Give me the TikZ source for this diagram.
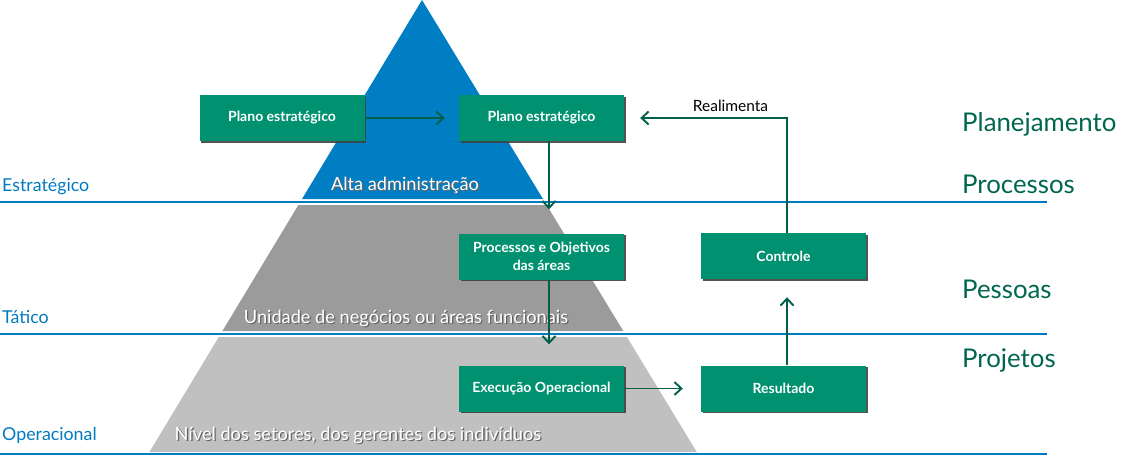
\documentclass[tikz,border=0pt]{standalone}
\usepackage{fontspec}
\setmainfont{Lato}
\usetikzlibrary{arrows.meta,shadows}
\definecolor{boxgreen}{RGB}{0,146,112}
\definecolor{arrowgreen}{RGB}{0,95,75}
\definecolor{tblue}{RGB}{0,126,196}
\definecolor{lineblue}{RGB}{0,122,192}
\definecolor{tgray}{RGB}{155,155,155}
\definecolor{lgray}{RGB}{192,192,192}
\definecolor{labgreen}{RGB}{0,102,78}
\tikzset{
  box/.style={fill=boxgreen, minimum width=165pt, minimum height=46pt, inner sep=0pt,
    text=white, align=center, font=\bfseries\fontsize{14}{18.5}\selectfont,
    drop shadow={shadow xshift=1.6pt, shadow yshift=-1.6pt, fill=black!75, opacity=0.9}},
  conn/.style={draw=arrowgreen, line width=1.9pt, -{Straight Barb[length=7pt,width=13pt,line width=1.9pt]}},
  sep/.style={draw=lineblue, line width=2.4pt},
  leftlab/.style={anchor=base west, text=lineblue, font=\fontsize{17.8}{20}\selectfont, inner sep=0pt},
  rightlab/.style={anchor=base west, text=labgreen, font=\fontsize{25.8}{30}\selectfont, inner sep=0pt},
  tierlab/.style={anchor=base, text=white, font=\fontsize{18.2}{21}\selectfont, inner sep=0pt},
  tiershadow/.style={anchor=base, text=black!60, font=\fontsize{18.2}{21}\selectfont, inner sep=0pt},
}
\begin{document}
\begin{tikzpicture}[x=1pt,y=-1pt]
\useasboundingbox (0,0) rectangle (1135,456);
% pyramid tiers
\fill[tblue] (422,0) -- (543,199) -- (302,199) -- cycle;
\fill[tgray] (298.4,205) -- (546.6,205) -- (623.3,331) -- (222.4,331) -- cycle;
\fill[lgray] (218.8,337) -- (626.9,337) -- (696.8,452) -- (149.4,452) -- cycle;
% separator lines
\draw[sep] (0,202) -- (1047,202);
\draw[sep] (0,334) -- (1047,334);
\draw[sep] (0,454) -- (1047,454);
% tier labels
\node[tiershadow] (t1s) at (406.3,191.3) {Alta administração};
\node[tierlab] (t1) at (405,190) {Alta administração};
\node[tiershadow] (t2s) at (407.3,324.3) {Unidade de negócios ou áreas funcionais};
\node[tierlab] (t2) at (406,323) {Unidade de negócios ou áreas funcionais};
\node[tiershadow] (t3s) at (359.3,441.3) {Nível dos setores, dos gerentes dos indivíduos};
\node[tierlab] (t3) at (358,440) {Nível dos setores, dos gerentes dos indivíduos};
% left labels
\node[leftlab] (l1) at (2,191) {Estratégico};
\node[leftlab] (l2) at (2,323) {Tático};
\node[leftlab] (l3) at (2,440) {Operacional};
% right labels
\node[rightlab] (r1) at (962,131) {Planejamento};
\node[rightlab] (r2) at (962,193) {Processos};
\node[rightlab] (r3) at (962,298) {Pessoas};
\node[rightlab] (r4) at (962,367) {Projetos};
% boxes
\node[box] (b1) at (282,118) {Plano estratégico};
\node[box] (b2) at (541.5,118) {Plano estratégico};
\node[box] (b3) at (541.5,256.5) {Processos e Objetivos\\das áreas};
\node[box] (ctl) at (783.5,256) {Controle};
\node[box] (ex) at (541.5,388.5) {Execução Operacional};
\node[box] (res) at (783.5,388.5) {Resultado};
% connectors
\draw[conn, shorten >=14pt] (b1.east) -- (b2.west);
\draw[conn, shorten >=24pt] ([xshift=7.5pt]b2.south) -- ([xshift=7.5pt]b3.north);
\draw[conn, shorten >=21pt] ([xshift=7.5pt]b3.south) -- ([xshift=7.5pt]ex.north);
\draw[conn, shorten >=18pt] (ex.east) -- (res.west);
\draw[conn, shorten >=18pt] ([xshift=3.5pt]res.north) -- ([xshift=3.5pt]ctl.south);
\draw[conn, shorten >=16pt] ([xshift=3.5pt]ctl.north) |- (b2.east);
\node[text=black, font=\fontsize{15.5}{18}\selectfont, inner sep=0pt] (rl) at (730.5,106) {Realimenta};
\end{tikzpicture}
\end{document}
